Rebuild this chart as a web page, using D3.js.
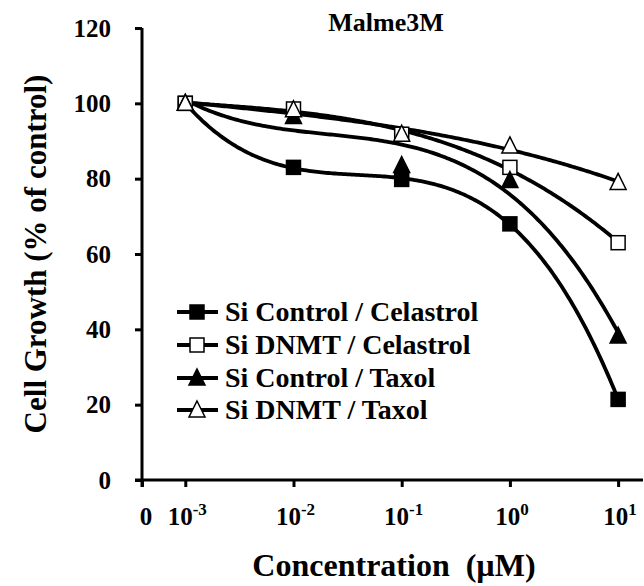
<!DOCTYPE html>
<html><head><meta charset="utf-8">
<script src="https://cdn.jsdelivr.net/npm/d3@7"></script>
<style>
body{margin:0;background:#fff;}
text{font-family:"Liberation Serif","Times New Roman",serif;font-weight:bold;fill:#000;}
</style></head>
<body><svg id="chart" width="644" height="586"></svg>
<script>
// ---- data ----
const concentrations = [0.001, 0.01, 0.1, 1, 10];
const siControlCelastrol = [100, 83, 79.8, 68, 21.4];
const siDnmtCelastrol   = [100, 98.5, 91.8, 83, 63];
const siControlTaxol    = [100, 96.5, 83.5, 79.5, 38.2];
const siDnmtTaxol       = [100, 98.3, 91.8, 88.7, 79];
const seriesNames = ["Si Control / Celastrol", "Si DNMT / Celastrol", "Si Control / Taxol", "Si DNMT / Taxol"];
const yTicks = [0, 20, 40, 60, 80, 100, 120];
const xTickExponents = ["-3", "-2", "-1", "0", "1"];
const chartTitle = "Malme3M";
const xTitle = "Concentration  (\u00B5M)";
const yTitle = "Cell Growth (% of control)";

const series = [
  {name: seriesNames[0], values: siControlCelastrol, shape: "square", filled: true},
  {name: seriesNames[1], values: siDnmtCelastrol, shape: "square", filled: false},
  {name: seriesNames[2], values: siControlTaxol, shape: "triangle", filled: true},
  {name: seriesNames[3], values: siDnmtTaxol, shape: "triangle", filled: false}
];

const svg = d3.select("#chart");
const x = d3.scaleLog().domain([Math.pow(10, -3.4), Math.pow(10, 1.23)]).range([142, 643]);
const y = d3.scaleLinear().domain([0, 120]).range([480, 28]);

// cubic least-squares trendline in log10(x) space
function cubicFit(xs, ys) {
  const n = 4, A = [], b = [];
  for (let i = 0; i < n; i++) { A.push(new Array(n).fill(0)); b.push(0); }
  xs.forEach((xv, k) => {
    for (let i = 0; i < n; i++) {
      for (let j = 0; j < n; j++) A[i][j] += Math.pow(xv, i + j);
      b[i] += ys[k] * Math.pow(xv, i);
    }
  });
  for (let i = 0; i < n; i++) {
    let p = i;
    for (let r = i + 1; r < n; r++) if (Math.abs(A[r][i]) > Math.abs(A[p][i])) p = r;
    [A[i], A[p]] = [A[p], A[i]]; [b[i], b[p]] = [b[p], b[i]];
    for (let r = i + 1; r < n; r++) {
      const f = A[r][i] / A[i][i];
      for (let c = i; c < n; c++) A[r][c] -= f * A[i][c];
      b[r] -= f * b[i];
    }
  }
  const coef = new Array(n).fill(0);
  for (let i = n - 1; i >= 0; i--) {
    let s = b[i];
    for (let c = i + 1; c < n; c++) s -= A[i][c] * coef[c];
    coef[i] = s / A[i][i];
  }
  return u => coef.reduce((s, c, i) => s + c * Math.pow(u, i), 0);
}

const logX = concentrations.map(c => Math.log10(c));
const line = d3.line().x(d => x(d[0])).y(d => y(d[1]));
series.forEach(s => {
  const f = cubicFit(logX, s.values);
  const pts = d3.range(0, 201).map(i => {
    const u = logX[0] + (logX[logX.length - 1] - logX[0]) * i / 200;
    return [Math.pow(10, u), f(u)];
  });
  svg.append("path").attr("d", line(pts)).attr("fill", "none")
    .attr("stroke", "#000").attr("stroke-width", 3.8);
});

function marker(g, shape, filled, cx, cy) {
  if (shape === "square") {
    g.append("rect").attr("x", cx - 7).attr("y", cy - 7).attr("width", 14).attr("height", 14)
      .attr("fill", filled ? "#000" : "#fff").attr("stroke", "#000").attr("stroke-width", 1.5);
  } else {
    g.append("path").attr("d", `M${cx},${cy - 9}L${cx + 8},${cy + 7}L${cx - 8},${cy + 7}Z`)
      .attr("fill", filled ? "#000" : "#fff").attr("stroke", "#000").attr("stroke-width", 1.5);
  }
}

const mg = svg.append("g");
series.forEach(s => {
  s.values.forEach((v, i) => marker(mg, s.shape, s.filled, x(concentrations[i]), y(v)));
});

// axes
const yAxis = d3.axisLeft(y).tickValues(yTicks).tickSize(7).tickPadding(24).tickFormat(d3.format("d"));
const ya = svg.append("g").attr("transform", "translate(142,0)").call(yAxis);
ya.select(".domain").attr("stroke-width", 3).attr("d", "M0,28V487");
ya.selectAll(".tick line").attr("stroke-width", 3);
ya.selectAll(".tick text").style("font-size", "25px").style("font-family", '"Liberation Serif",serif').style("font-weight", "bold");

const xTickVals = [x.domain()[0]].concat(concentrations);
const xAxis = d3.axisBottom(x).tickValues(xTickVals).tickSize(7).tickFormat("");
const xa = svg.append("g").attr("transform", "translate(0,480)").call(xAxis);
xa.select(".domain").attr("stroke-width", 3).attr("d", "M135,0H643");
xa.selectAll(".tick line").attr("stroke-width", 3);

const xl = svg.append("g");
xl.append("text").attr("x", x(x.domain()[0]) + 4).attr("y", 525).attr("text-anchor", "middle")
  .style("font-size", "25px").text("0");
concentrations.forEach((c, i) => {
  const t = xl.append("text").attr("x", x(c) + 2).attr("y", 525).attr("text-anchor", "middle")
    .style("font-size", "25px");
  t.append("tspan").text("10");
  t.append("tspan").attr("dy", -10).style("font-size", "17px").text(xTickExponents[i]);
});

// titles
svg.append("text").attr("x", 386).attr("y", 31).attr("text-anchor", "middle")
  .style("font-size", "26px").text(chartTitle);
svg.append("text").attr("x", 394).attr("y", 576).attr("text-anchor", "middle")
  .style("font-size", "32px").attr("xml:space", "preserve").text(xTitle);
svg.append("text").attr("transform", "translate(46,254) rotate(-90)").attr("text-anchor", "middle")
  .style("font-size", "31px").text(yTitle);

// legend
const legendY = [312, 345, 378, 410];
series.forEach((s, i) => {
  const g = svg.append("g");
  g.append("line").attr("x1", 177).attr("x2", 218).attr("y1", legendY[i]).attr("y2", legendY[i])
    .attr("stroke", "#000").attr("stroke-width", 3.8);
  marker(g, s.shape, s.filled, 197, legendY[i]);
  g.append("text").attr("x", 225).attr("y", legendY[i] + 9).style("font-size", "28px").text(s.name);
});
</script></body></html>
